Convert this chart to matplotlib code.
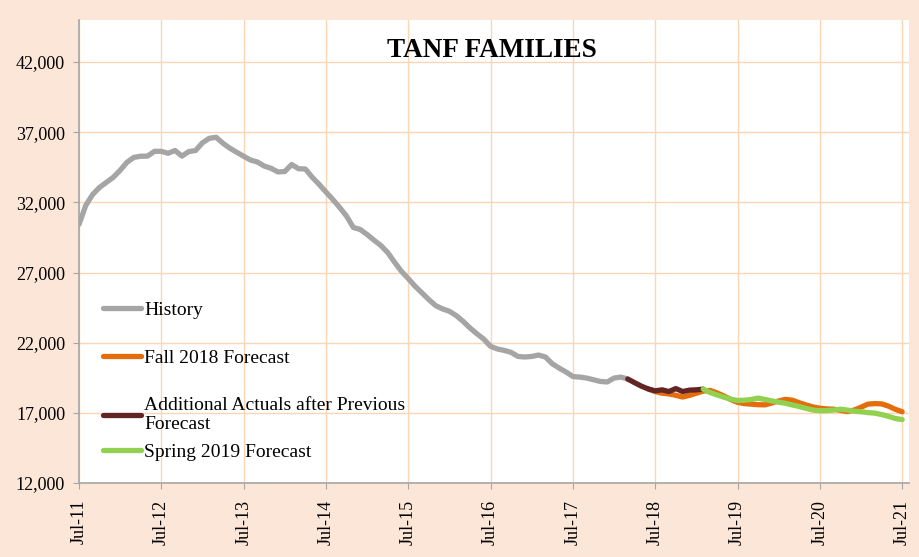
import matplotlib
matplotlib.use("Agg")
import matplotlib.pyplot as plt
import numpy as np
from matplotlib.ticker import FuncFormatter

plt.rcParams['font.family'] = ['Liberation Serif', 'DejaVu Serif']

# monthly index, 0 = Jul-11
history = [30430, 31800, 32570, 33070, 33430, 33790, 34290, 34860, 35210, 35290,
           35300, 35640, 35640, 35500, 35700, 35300, 35620, 35700, 36250, 36570,
           36640, 36210, 35860, 35570, 35290, 35020, 34880, 34590, 34430, 34170,
           34200, 34700, 34400, 34380, 33790, 33290, 32740, 32210, 31640, 31020,
           30210, 30070, 29710, 29310, 28930, 28430, 27740, 27090, 26570, 26020,
           25550, 25070, 24640, 24410, 24240, 23930, 23520, 23050, 22640, 22260,
           21740, 21550, 21450, 21310, 21020, 20980, 21020, 21120, 20980, 20500,
           20190, 19910, 19590, 19550, 19480, 19360, 19240, 19200, 19480, 19550,
           19410]
history_start = 0

fall2018 = [18700, 18520, 18400, 18350, 18250, 18130, 18250, 18400, 18550, 18600,
            18420, 18210, 17950, 17750, 17660, 17620, 17580, 17570, 17700, 17850,
            17960, 17900, 17720, 17560, 17420, 17330, 17280, 17260, 17180, 17090,
            17200, 17400, 17620, 17660, 17640, 17480, 17250, 17080]
fall2018_start = 83

actuals = [19410, 19150, 18900, 18700, 18570, 18640, 18520, 18730, 18520, 18620,
           18640, 18690]
actuals_start = 80

spring2019 = [18690, 18450, 18280, 18120, 17980, 17880, 17900, 17950, 18050, 17950,
              17850, 17760, 17680, 17560, 17450, 17320, 17200, 17150, 17160, 17200,
              17260, 17200, 17120, 17080, 17020, 16980, 16880, 16750, 16600, 16520]
spring2019_start = 91

tick_labels = ["Jul-11", "Jul-12", "Jul-13", "Jul-14", "Jul-15", "Jul-16",
               "Jul-17", "Jul-18", "Jul-19", "Jul-20", "Jul-21"]
y_ticks = [12000, 17000, 22000, 27000, 32000, 37000, 42000]

bg = '#FCE6D8'
grid_c = '#FCD5B4'
axis_c = '#A6A6A6'

fig = plt.figure(figsize=(9.19, 5.57), dpi=100, facecolor=bg)
ax = fig.add_axes([79/919, 1 - 483/557, 830/919, 463/557])
ax.set_facecolor('white')

lw = 3.8
def idx(start, vals):
    return np.arange(start, start + len(vals))

l1, = ax.plot(idx(history_start, history), history, color='#A5A5A5', lw=lw,
              solid_joinstyle='round', solid_capstyle='round', label='History')
l2, = ax.plot(idx(fall2018_start, fall2018), fall2018, color='#E46C0A', lw=lw,
              solid_joinstyle='round', solid_capstyle='round', label='Fall 2018 Forecast')
l3, = ax.plot(idx(actuals_start, actuals), actuals, color='#632523', lw=lw,
              solid_joinstyle='round', solid_capstyle='round',
              label='Additional Actuals after Previous\nForecast')
l4, = ax.plot(idx(spring2019_start, spring2019), spring2019, color='#92D050', lw=lw,
              solid_joinstyle='round', solid_capstyle='round', label='Spring 2019 Forecast')

ax.set_xlim(0, 121)
ax.set_ylim(12000, 45000)
ax.set_xticks(np.arange(0, 121, 12))
ax.set_xticklabels(tick_labels, rotation=90, fontsize=13)
ax.set_yticks(y_ticks)
ax.yaxis.set_major_formatter(FuncFormatter(lambda v, p: f"{int(v):,}"))
ax.tick_params(axis='y', labelsize=13, length=4, color=axis_c, pad=6)
ax.tick_params(axis='x', length=4, color=axis_c, pad=8)

ax.grid(True, color=grid_c, lw=1.0)
ax.set_axisbelow(True)
for s in ['top', 'right']:
    ax.spines[s].set_visible(False)
for s in ['left', 'bottom']:
    ax.spines[s].set_color(axis_c)
    ax.spines[s].set_linewidth(1.2)

ax.text(0.497, 0.935, 'TANF FAMILIES', transform=ax.transAxes, ha='center',
        va='center', fontsize=19.5, fontweight='bold')

leg1 = ax.legend(handles=[l1, l2, l3], loc='upper left', bbox_to_anchor=(0.029, 0.392),
                 frameon=False, fontsize=14, borderpad=0, borderaxespad=0,
                 handlelength=1.95, handletextpad=0.15, labelspacing=1.55)
for t in leg1.get_texts():
    t.set_linespacing(1.15)
ax.add_artist(leg1)
ax.legend(handles=[l4], loc='center left', bbox_to_anchor=(0.029, 0.066),
          frameon=False, fontsize=14, borderpad=0, borderaxespad=0,
          handlelength=1.95, handletextpad=0.15)

fig.savefig('out.png', dpi=100, facecolor=bg)
